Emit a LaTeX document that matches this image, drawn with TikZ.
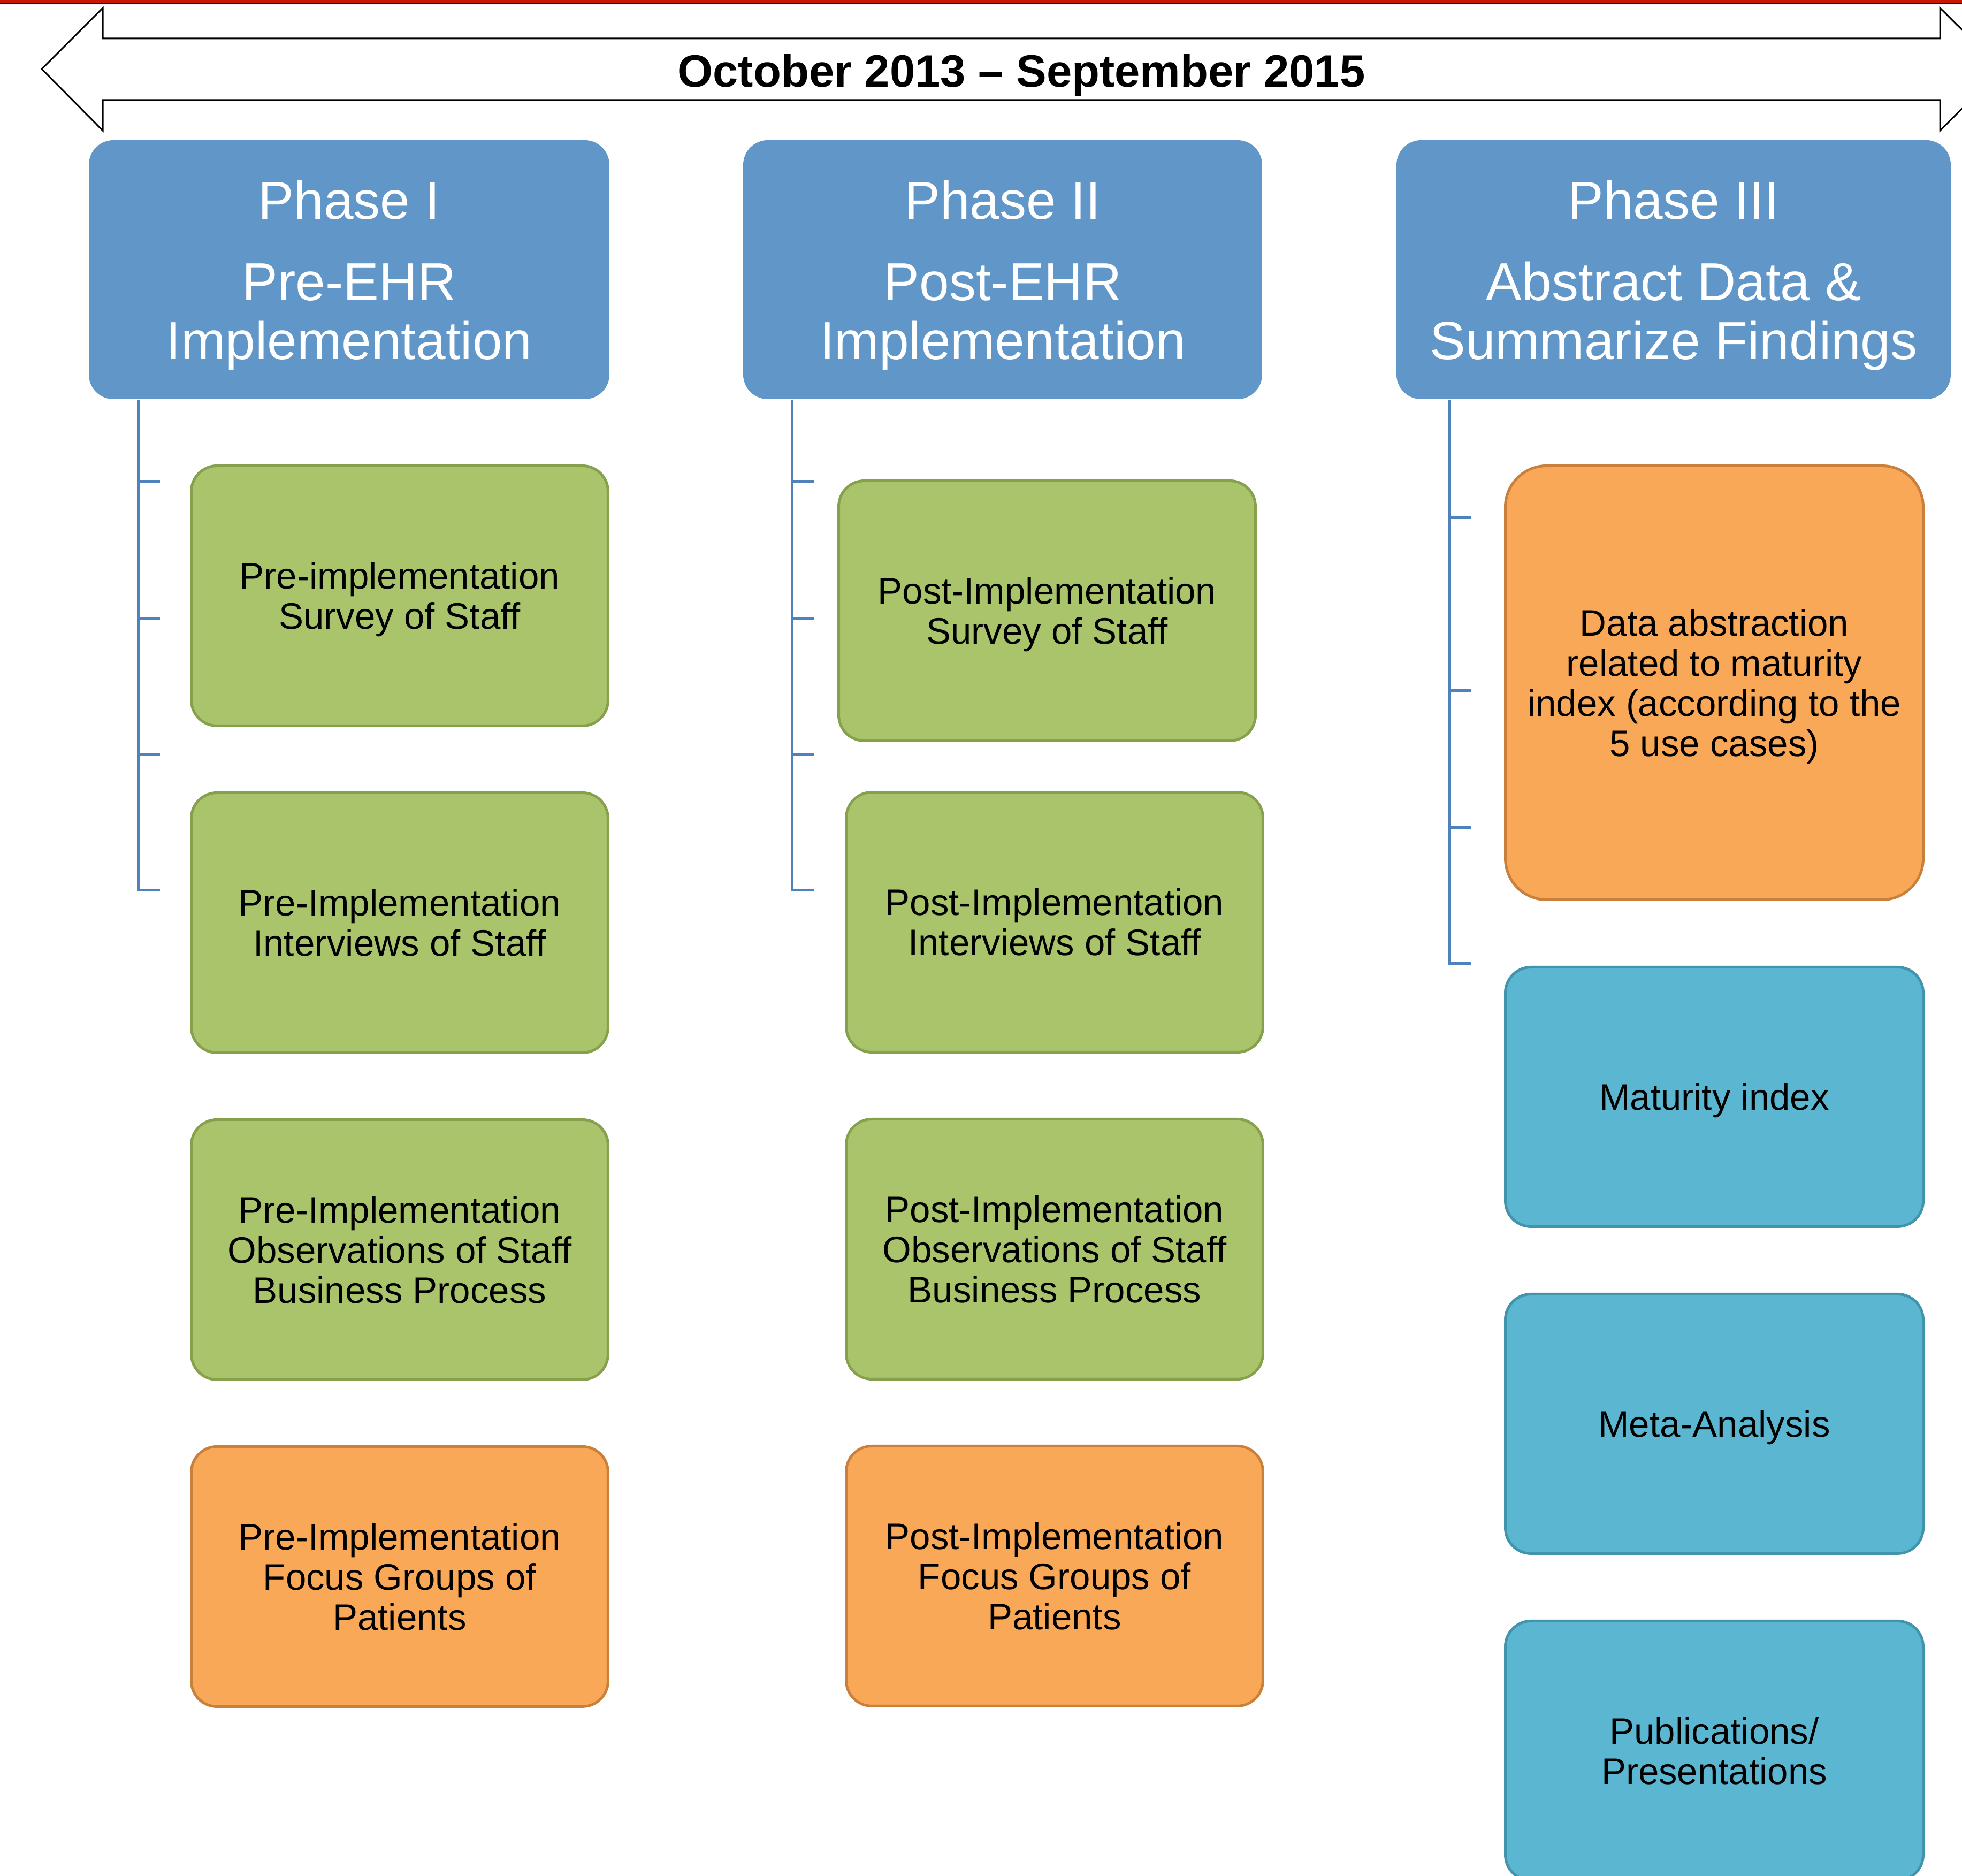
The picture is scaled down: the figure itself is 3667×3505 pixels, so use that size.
\documentclass[tikz,border=0pt]{standalone}
\usepackage{fontspec}
\setmainfont{Liberation Sans}
\usetikzlibrary{positioning}
\definecolor{phaseblue}{RGB}{97,150,201}
\definecolor{linkblue}{RGB}{79,129,189}
\definecolor{greenfill}{RGB}{170,196,108}
\definecolor{greenline}{RGB}{134,160,77}
\definecolor{orangefill}{RGB}{249,168,87}
\definecolor{orangeline}{RGB}{200,128,60}
\definecolor{tealfill}{RGB}{91,183,209}
\definecolor{tealline}{RGB}{66,148,172}
\definecolor{topred}{RGB}{200,24,0}
\tikzset{
  phase/.style={fill=phaseblue, rounded corners=4.6pt, text=white, align=center,
    minimum height=48.4pt, inner sep=0pt, anchor=north west, text depth=0pt,
    font=\fontsize{10}{11}\selectfont},
  task/.style={draw, line width=0.5pt, rounded corners=4.8pt, align=center,
    minimum width=77.9pt, minimum height=48.6pt, inner sep=0pt, text depth=0pt,
    font=\fontsize{6.9}{7.5}\selectfont},
  greentask/.style={task, fill=greenfill, draw=greenline},
  orangetask/.style={task, fill=orangefill, draw=orangeline},
  tealtask/.style={task, fill=tealfill, draw=tealline, minimum width=78.1pt, minimum height=48.5pt},
  bracket/.style={draw=linkblue, line width=0.5pt},
}
\begin{document}
\begin{tikzpicture}[x=0.1pt, y=-0.1pt, node distance=12pt]
		\useasboundingbox (0,0) rectangle (3667,3505);
		\clip (0,0) rectangle (3667,3505);
		\fill[topred] (0,0) rectangle (3667,5);
		\draw[line width=0.15pt] (0,6) -- (3667,6);
		
		% time span arrow
		\draw[line width=0.3pt, fill=white] (78,129) -- (192,15) -- (192,72) -- (3626,72) -- (3626,15) -- (3741,129)
		  -- (3626,244) -- (3626,187) -- (192,187) -- (192,244) -- cycle;
		\node(span) [anchor=base, font=\bfseries\fontsize{8.5}{10}\selectfont] at (1909,163) {October 2013 -- September 2015};
		
		% phases
		\node(ph1) [phase, minimum width=97.3pt] at (164,260) {Phase I\\[4.2pt]Pre-EHR\\Implementation};
		\node(ph2) [phase, minimum width=97.0pt] at (1387,260) {Phase II\\[4.2pt]Post-EHR\\Implementation};
		\node(ph3) [phase, minimum width=103.6pt] at (2608,260) {Phase III\\[4.2pt]Abstract Data \&\\Summarize Findings};
		
		% phase I
		\node(pre1) [greentask, anchor=north west] at (355,868) {Pre-implementation\\Survey of Staff};
		\node(pre2) [greentask, below=of pre1] {Pre-Implementation\\Interviews of Staff};
		\node(pre3) [greentask, below=of pre2] {Pre-Implementation\\Observations of Staff\\Business Process};
		\node(pre4) [orangetask, below=of pre3] {Pre-Implementation\\Focus Groups of\\Patients};
		
		% phase II
		\node(post1) [greentask, anchor=north west] at (1565,896) {Post-Implementation\\Survey of Staff};
		\node(post2) [greentask, anchor=north west] at (1579,1478) {Post-Implementation\\Interviews of Staff};
		\node(post3) [greentask, below=of post2] {Post-Implementation\\Observations of Staff\\Business Process};
		\node(post4) [orangetask, below=of post3] {Post-Implementation\\Focus Groups of\\Patients};
		
		% phase III
		\node(abs) [orangetask, anchor=north west, minimum width=78.1pt, minimum height=81.1pt, rounded corners=7.7pt] at (2811,868)
		  {Data abstraction\\related to maturity\\index (according to the\\5 use cases)};
		\node(mat) [tealtask, below=12.1pt of abs] {Maturity index};
		\node(meta) [tealtask, below=12.1pt of mat] {Meta-Analysis};
		\node(pub) [tealtask, below=12.1pt of meta] {Publications/\\Presentations};
		
		% brackets under the phases
		\foreach \x in {258, 1480} {
		  \draw[bracket] (\x,748) -- (\x,1663) -- ++(41,0);
		  \foreach \y in {900, 1155, 1409}
		    \draw[bracket] (\x,\y) -- ++(41,0);
		}
		\draw[bracket] (2709,747) -- (2709,1800) -- ++(41,0);
		\foreach \y in {968, 1290, 1546}
		  \draw[bracket] (2709,\y) -- ++(41,0);
		
\end{tikzpicture}
\end{document}
